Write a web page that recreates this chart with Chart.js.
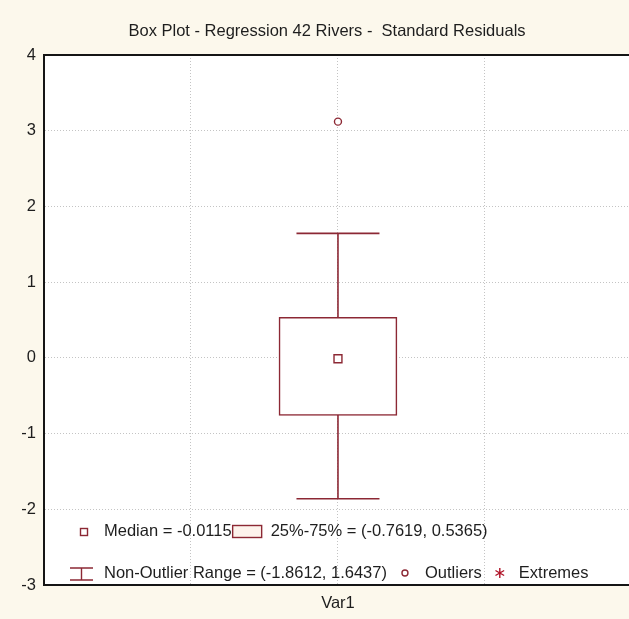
<!DOCTYPE html>
<html>
<head>
<meta charset="utf-8">
<title>Box Plot - Regression 42 Rivers - Standard Residuals</title>
<script src="https://cdn.jsdelivr.net/npm/chart.js@4/dist/chart.umd.min.js"></script>
<style>
  html, body { margin: 0; padding: 0; background: #fcf8ec; overflow: hidden; }
  #chart { display: block; width: 629px; height: 619px; }
</style>
</head>
<body>
<canvas id="chart" width="629" height="619"></canvas>
<script>
// Summary statistics of the standardized residuals (one variable)
const categories   = ['Var1'];
const medianValues = [-0.0115];
const q1Values     = [-0.7619];
const q3Values     = [0.5365];
const lowWhisker   = [-1.8612];
const highWhisker  = [1.6437];
const outlierValues = [3.12];
const yTickValues  = [-3, -2, -1, 0, 1, 2, 3, 4];

const titleText = 'Box Plot - Regression 42 Rivers -  Standard Residuals';
const MAROON = '#8c2834';
const FONT = '"Liberation Sans", Arial, sans-serif';
const FONT_SIZE = 16.5;

// The single variable sits in the middle slot of a 4-division x scale
const slot = 2;
const fmt = v => v.toFixed(4);

const boxData     = categories.map((c, i) => ({ x: slot, y: [q1Values[i], q3Values[i]] }));
const whiskerData = categories.map((c, i) => [{ x: slot, y: lowWhisker[i] }, { x: slot, y: highWhisker[i] }]).flat();
const capData     = whiskerData.slice();
const medianData  = categories.map((c, i) => ({ x: slot, y: medianValues[i] }));
const outlierData = outlierValues.map(v => ({ x: slot, y: v }));

// White plot area, top frame line, title and the in-plot legend
const framePlugin = {
  id: 'frame',
  beforeDraw(chart) {
    const { ctx, chartArea: a } = chart;
    ctx.save();
    ctx.fillStyle = '#fcf8ec';
    ctx.fillRect(0, 0, chart.width, chart.height);
    ctx.fillStyle = '#ffffff';
    ctx.fillRect(a.left, a.top, a.right - a.left, a.bottom - a.top);
    ctx.restore();
  },
  afterDraw(chart) {
    const { ctx, chartArea: a } = chart;
    ctx.save();
    // top frame
    ctx.strokeStyle = '#151515';
    ctx.lineWidth = 2;
    ctx.beginPath();
    ctx.moveTo(a.left - 1, a.top);
    ctx.lineTo(a.right, a.top);
    ctx.stroke();

    // title
    ctx.fillStyle = '#1e1e1e';
    ctx.font = FONT_SIZE + 'px ' + FONT;
    ctx.textAlign = 'center';
    ctx.textBaseline = 'middle';
    ctx.fillText(titleText, 327, 31);

    // legend
    ctx.textAlign = 'left';
    ctx.fillStyle = '#1e1e1e';
    const y1 = 531, y2 = 573;
    const tx = 104;

    // median marker
    ctx.strokeStyle = MAROON;
    ctx.lineWidth = 1.4;
    ctx.fillStyle = '#ffffff';
    ctx.fillRect(80.5, 528.5, 7, 7);
    ctx.strokeRect(80.5, 528.5, 7, 7);
    ctx.fillStyle = '#1e1e1e';
    const medText = 'Median = ' + fmt(medianValues[0]);
    ctx.fillText(medText, tx, y1);
    let x = tx + ctx.measureText(medText).width + 1;
    // quartile box icon
    ctx.fillStyle = '#fdf3ec';
    ctx.fillRect(x, y1 - 5.5, 29, 12);
    ctx.strokeRect(x, y1 - 5.5, 29, 12);
    x += 29 + 9;
    ctx.fillStyle = '#1e1e1e';
    ctx.fillText('25%-75% = (' + fmt(q1Values[0]) + ', ' + fmt(q3Values[0]) + ')', x, y1);

    // whisker icon
    ctx.strokeStyle = MAROON;
    ctx.beginPath();
    ctx.moveTo(70, y2 - 5); ctx.lineTo(93, y2 - 5);
    ctx.moveTo(81.5, y2 - 5); ctx.lineTo(81.5, y2 + 7);
    ctx.moveTo(70, y2 + 7); ctx.lineTo(93, y2 + 7);
    ctx.stroke();
    const rangeText = 'Non-Outlier Range = (' + fmt(lowWhisker[0]) + ', ' + fmt(highWhisker[0]) + ')';
    ctx.fillText(rangeText, tx, y2);
    x = tx + ctx.measureText(rangeText).width + 18;
    // outlier icon
    ctx.beginPath();
    ctx.arc(x, y2, 3, 0, Math.PI * 2);
    ctx.stroke();
    x += 20;
    ctx.fillText('Outliers', x, y2);
    x += ctx.measureText('Outliers').width + 18;
    // extreme icon (asterisk)
    ctx.strokeStyle = '#b01428';
    ctx.lineWidth = 1.4;
    ctx.beginPath();
    for (let k = 0; k < 3; k++) {
      const ang = Math.PI / 2 + k * Math.PI / 3;
      ctx.moveTo(x - 5 * Math.cos(ang), y2 - 5 * Math.sin(ang));
      ctx.lineTo(x + 5 * Math.cos(ang), y2 + 5 * Math.sin(ang));
    }
    ctx.stroke();
    x += 19;
    ctx.fillText('Extremes', x, y2);
    ctx.restore();
  }
};

const gridColor = '#c4c4c4';

new Chart(document.getElementById('chart'), {
  type: 'bar',
  data: {
    datasets: [
      {
        type: 'bar',
        label: '25%-75%',
        data: boxData,
        backgroundColor: '#ffffff',
        borderColor: MAROON,
        borderWidth: 1.6,
        borderSkipped: false,
        barThickness: 118,
        order: 1
      },
      {
        type: 'line',
        label: 'Non-Outlier Range',
        data: whiskerData,
        borderColor: MAROON,
        borderWidth: 1.6,
        pointRadius: 0,
        order: 3
      },
      {
        type: 'scatter',
        label: 'Whisker caps',
        data: capData,
        pointStyle: 'line',
        pointRadius: 41.5,
        borderColor: MAROON,
        pointBorderWidth: 1.6,
        order: 2
      },
      {
        type: 'scatter',
        label: 'Median',
        data: medianData,
        pointStyle: 'rect',
        pointRadius: 5.6,
        backgroundColor: '#ffffff',
        borderColor: MAROON,
        pointBorderWidth: 1.4,
        order: 0
      },
      {
        type: 'scatter',
        label: 'Outliers',
        data: outlierData,
        pointStyle: 'circle',
        pointRadius: 3.5,
        backgroundColor: '#ffffff',
        borderColor: MAROON,
        pointBorderWidth: 1.4,
        order: 0
      }
    ]
  },
  options: {
    responsive: false,
    maintainAspectRatio: false,
    devicePixelRatio: 1,
    animation: false,
    events: [],
    layout: { autoPadding: false, padding: { top: 55, left: 0, right: 0, bottom: 0 } },
    plugins: {
      legend: { display: false },
      title: { display: false },
      tooltip: { enabled: false }
    },
    scales: {
      x: {
        type: 'linear',
        offset: false,
        min: 0,
        max: 3.98,
        afterBuildTicks: scale => { scale.ticks = [0, 1, 2, 3].map(v => ({ value: v })); },
        afterFit: scale => { scale.height = 34; },
        grid: {
          offset: false,
          color: c => (c.tick && c.tick.value > 0 ? gridColor : 'rgba(0,0,0,0)'),
          lineWidth: 1,
          drawTicks: false
        },
        border: { display: true, color: '#151515', width: 2, dash: [1, 2] },
        ticks: {
          padding: 9,
          color: '#1e1e1e',
          font: { family: FONT, size: FONT_SIZE },
          callback: v => (v === slot ? categories[0] : '')
        }
      },
      y: {
        type: 'linear',
        min: yTickValues[0],
        max: yTickValues[yTickValues.length - 1],
        afterBuildTicks: scale => { scale.ticks = yTickValues.map(v => ({ value: v })); },
        afterFit: scale => { scale.width = 44; },
        grid: {
          color: c => (c.tick && c.tick.value > yTickValues[0] && c.tick.value < yTickValues[yTickValues.length - 1] ? gridColor : 'rgba(0,0,0,0)'),
          lineWidth: 1,
          drawTicks: false
        },
        border: { display: true, color: '#151515', width: 2, dash: [1, 2] },
        ticks: {
          padding: 8,
          color: '#1e1e1e',
          font: { family: FONT, size: FONT_SIZE },
          callback: v => String(v)
        }
      }
    }
  },
  plugins: [framePlugin]
});
</script>
</body>
</html>
